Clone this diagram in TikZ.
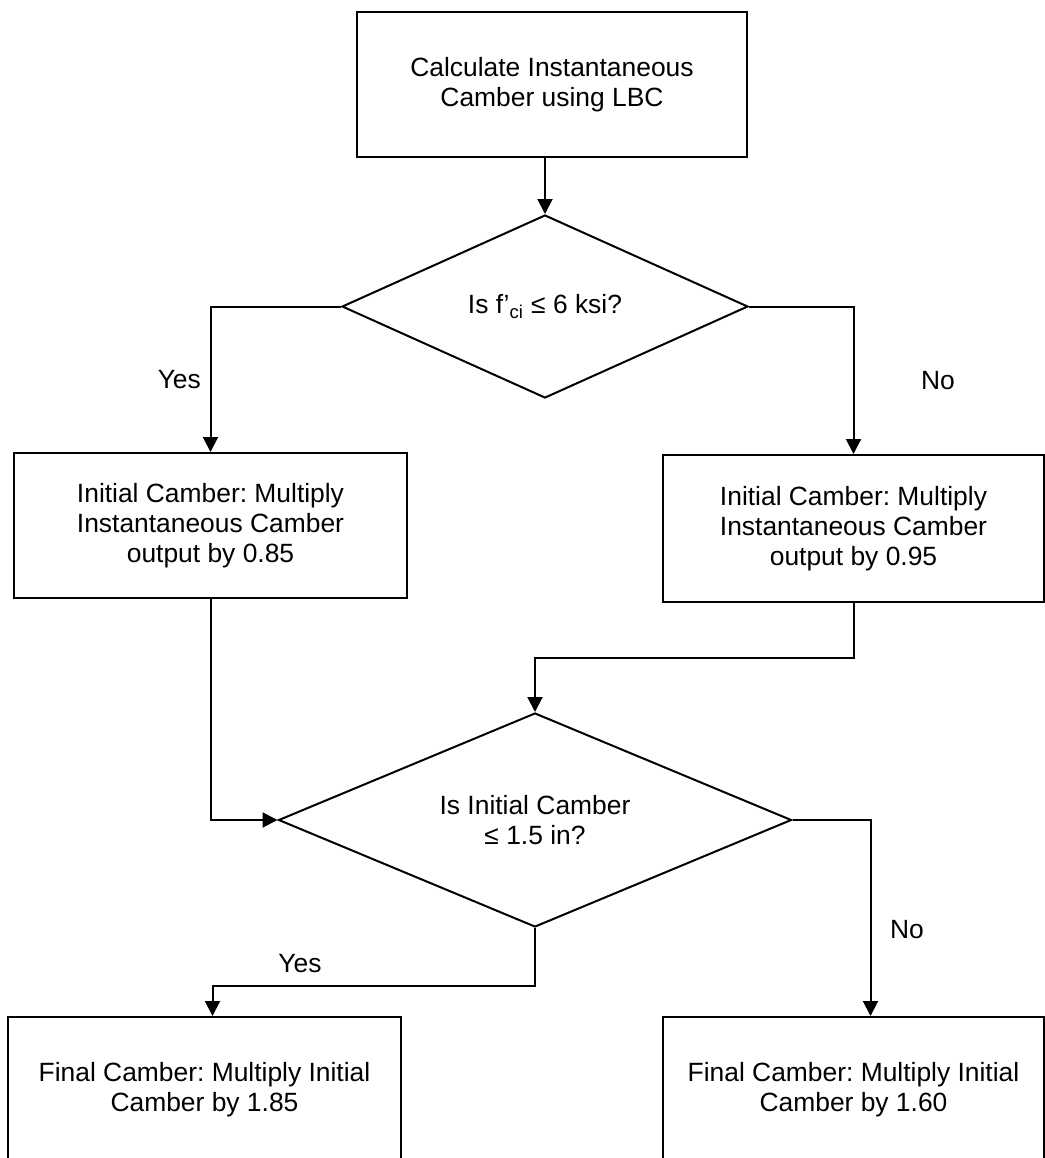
\documentclass[tikz,border=0pt]{standalone}
\usepackage{fontspec}
\setmainfont{Liberation Sans}
\frenchspacing
\usetikzlibrary{shapes.geometric,arrows.meta,calc}
\tikzset{every picture/.append style={x=0.5pt,y=-0.5pt}}
\tikzset{box/.style={draw, line width=1pt, minimum width=196.5pt, minimum height=72.5pt, inner sep=0pt, align=center, font=\fontsize{13.2}{15}\selectfont}}
\tikzset{decision/.style={draw, diamond, aspect=2.2, line width=1pt, inner sep=0pt, align=center, font=\fontsize{13.2}{15}\selectfont}}
\tikzset{edge/.style={line width=1pt}}
\tikzset{flow/.style={edge, -{Triangle[length=7.5pt,width=7.5pt]}}}
\tikzset{answer/.style={font=\fontsize{13.2}{15}\selectfont}}

\begin{document}
\begin{tikzpicture}
  \useasboundingbox (0,0) rectangle (1045,1158);
  \node (calc) at (552,84.5)[box, minimum width=195pt]{Calculate Instantaneous\\Camber using LBC};
  \node (dia1) at (545,306.5)[decision, minimum width=203pt, minimum height=91.5pt]{Is f’\textsubscript{ci} ≤ 6 ksi?};
  \node (init85) at (210.5,525.5)[box]{Initial Camber: Multiply\\Instantaneous Camber\\output by 0.85};
  \node (init95) at (853.5,528.5)[box, minimum width=190.5pt, minimum height=73.5pt]{Initial Camber: Multiply\\Instantaneous Camber\\output by 0.95};
  \node (dia2) at (535,820)[decision, minimum width=256.5pt, minimum height=107pt]{Is Initial Camber\\≤ 1.5 in?};
  \node (fin185) at (204.5,1089.5)[box]{Final Camber: Multiply Initial\\Camber by 1.85};
  \node (fin160) at (853.5,1089.5)[box, minimum width=190.5pt]{Final Camber: Multiply Initial\\Camber by 1.60};
  \coordinate (yesbend) at (535,986);

  \draw[flow] (dia1.north |- calc.south) -- (dia1.north);
  \draw[flow] (dia1.west) -| (init85.north) node[answer, pos=0.75, left=1pt]{Yes};
  \draw[flow] (dia1.east) -| (init95.north) node[answer, pos=0.75, right=30pt]{No};
  \draw[flow] (init95.south) |- ($(init95.south)!0.5!(dia2.north)$) -| (dia2.north);
  \draw[flow] (init85.south) |- (dia2.west);
  \draw[flow] (dia2.east) -| ([xshift=8.5pt]fin160.north) node[answer, pos=0.78, right=6pt]{No};
  \draw[flow] (dia2.south) -- (yesbend) -| ([xshift=4pt]fin185.north);
  \node (yes2) at (300,964)[answer]{Yes};
\end{tikzpicture}
\end{document}
